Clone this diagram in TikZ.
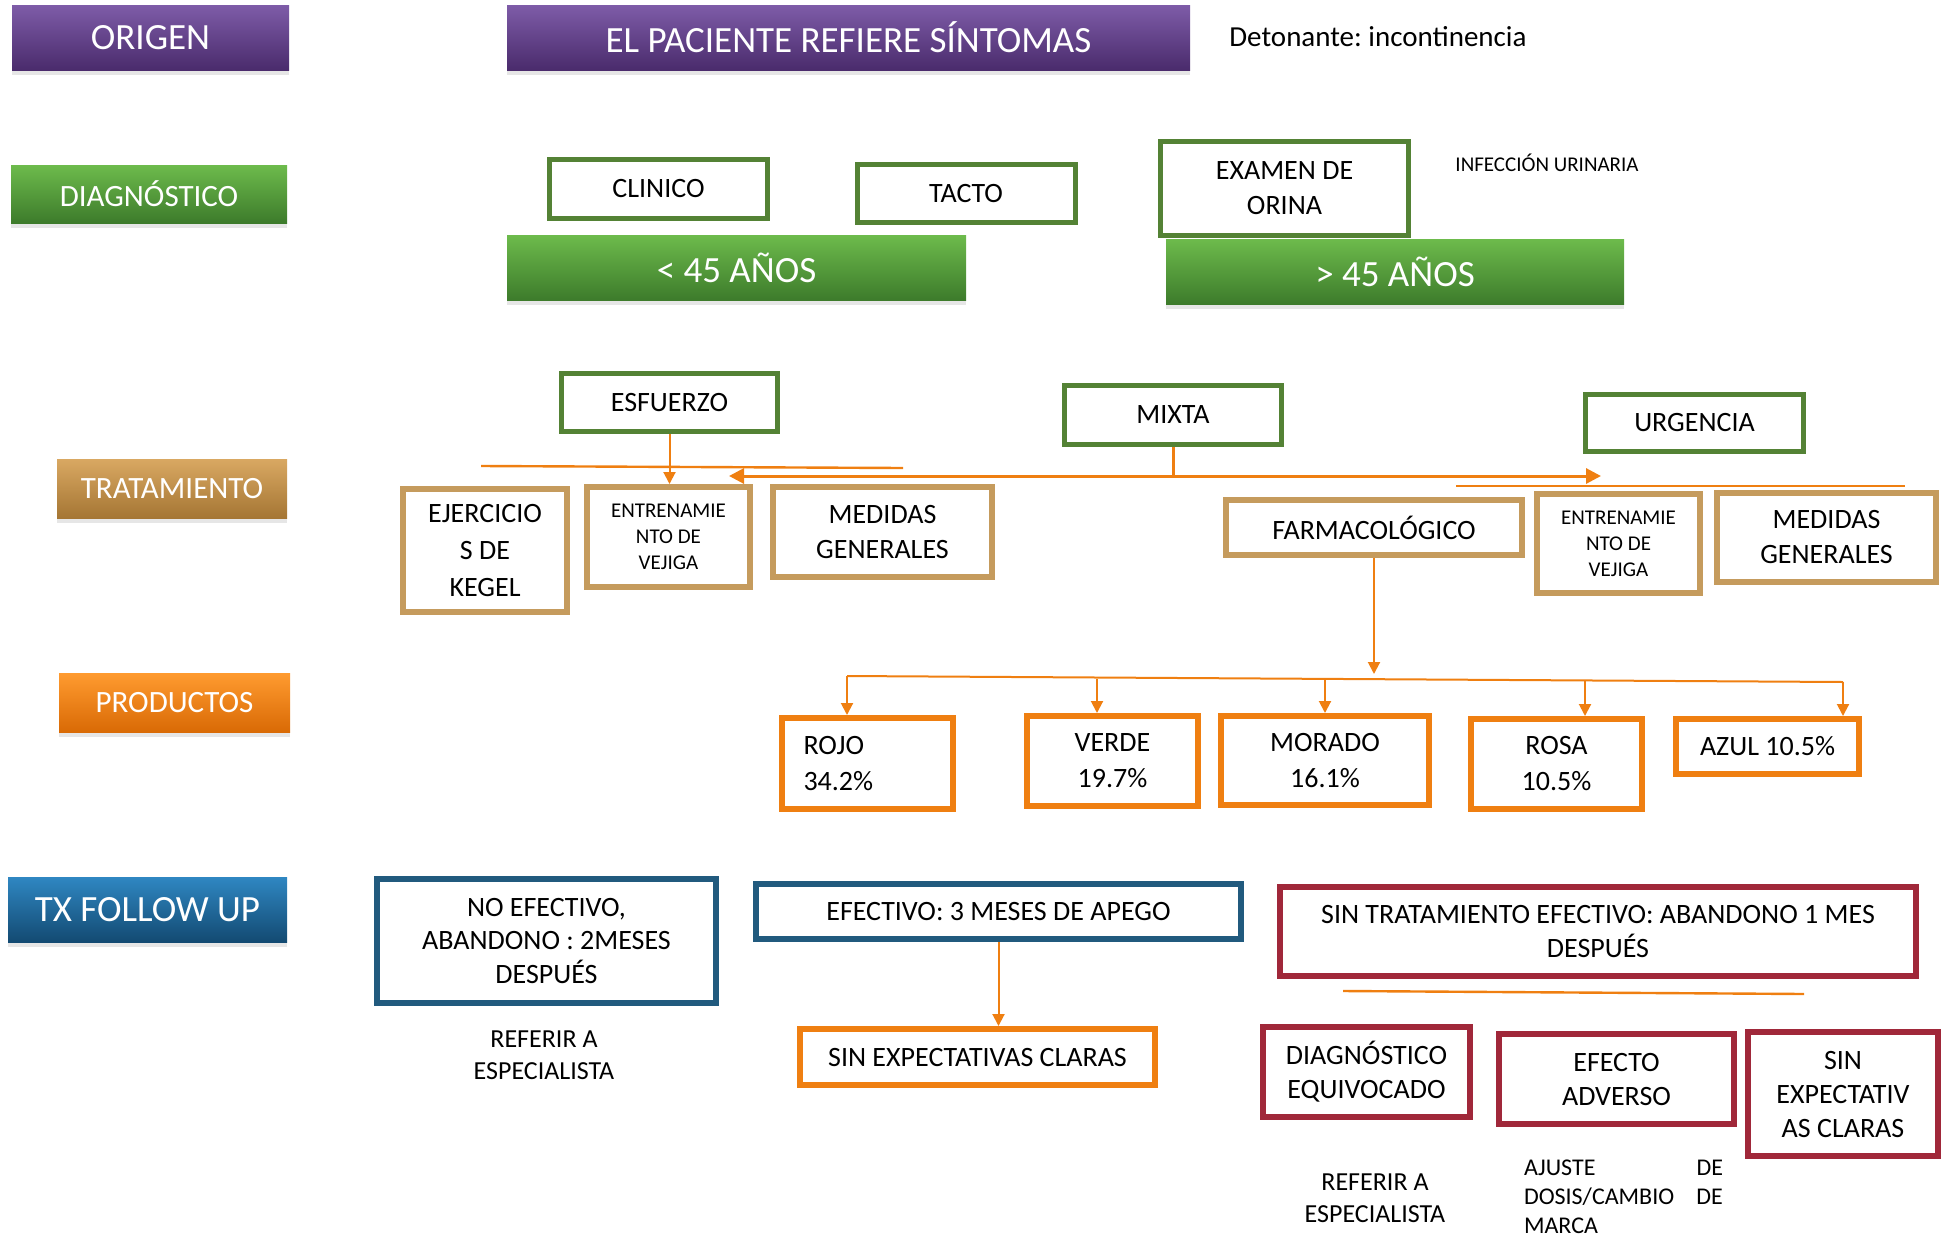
\documentclass[tikz,border=0pt]{standalone}
\usepackage{fontspec}
\setmainfont{Carlito}
\usetikzlibrary{arrows.meta,shadows}
\frenchspacing

\definecolor{morTop}{HTML}{7E5CA8}
\definecolor{morBot}{HTML}{4A2B6C}
\definecolor{verTop}{HTML}{6DBB4C}
\definecolor{verBot}{HTML}{3D7B2B}
\definecolor{tanTop}{HTML}{D9A862}
\definecolor{tanBot}{HTML}{A57634}
\definecolor{narTop}{HTML}{FF9B30}
\definecolor{narBot}{HTML}{D96A05}
\definecolor{azuTop}{HTML}{2F87C2}
\definecolor{azuBot}{HTML}{134A72}
\definecolor{verde}{HTML}{548235}
\definecolor{tan}{HTML}{C59B5D}
\definecolor{naranja}{HTML}{EF7F11}
\definecolor{azul}{HTML}{215A7E}
\definecolor{rojo}{HTML}{A0283A}

\tikzset{
  etiq/.style={inner sep=0pt, text=white, drop shadow={shadow xshift=0pt, shadow yshift=-2.5pt, opacity=0.2}},
  etmor/.style={etiq, top color=morTop, bottom color=morBot},
  etver/.style={etiq, top color=verTop, bottom color=verBot},
  ettan/.style={etiq, top color=tanTop, bottom color=tanBot},
  etnar/.style={etiq, top color=narTop, bottom color=narBot},
  etazu/.style={etiq, top color=azuTop, bottom color=azuBot},
  grande/.style={font=\fontsize{18.5}{22}\selectfont},
  media/.style={font=\fontsize{15.5}{18}\selectfont},
  chica/.style={font=\fontsize{10.5}{13}\selectfont},
  caja/.style={draw, fill=white, line width=2.5pt, inner sep=0pt, align=center, font=\fontsize{14}{17.5}\selectfont},
  cver/.style={caja, draw=verde},
  ctan/.style={caja, draw=tan, line width=3pt},
  cnar/.style={caja, draw=naranja, line width=3pt, font=\fontsize{14}{18}\selectfont},
  cazu/.style={caja, draw=azul, line width=3pt, font=\fontsize{14}{16.7}\selectfont},
  croj/.style={caja, draw=rojo, line width=3pt, font=\fontsize{14}{17}\selectfont},
  linea/.style={draw=naranja, line width=1.2pt},
  flecha/.style={draw=naranja, line width=1pt, -{Triangle[length=6pt,width=6pt]}},
  flechag/.style={draw=naranja, line width=1.5pt, -{Triangle[length=7.5pt,width=7.5pt]}}
}

\begin{document}
\begin{tikzpicture}[x=0.5pt,y=-0.5pt]
        \useasboundingbox (0,0) rectangle (1944,1237);

        \node[etmor,grande,minimum width=138.5pt,minimum height=32.5pt] (orig) at (150.5,37.5) {ORIGEN};
        \node[etmor,grande,minimum width=341.5pt,minimum height=32.5pt] (sint) at (848.5,37.5) {EL PACIENTE REFIERE SÍNTOMAS};
        \node[anchor=west,inner sep=0pt,font=\fontsize{14.5}{17}\selectfont] (deto) at (1229,37) {Detonante: incontinencia};

        \node[etver,media,minimum width=138pt,minimum height=29pt] (diag) at (149,194) {DIAGNÓSTICO};
        \node[cver,minimum width=109pt,minimum height=29.5pt] (clin) at (658.5,189) {CLINICO};
        \node[cver,minimum width=109pt,minimum height=29pt] (tact) at (966,193.5) {TACTO};
        \node[etver,grande,minimum width=229.5pt,minimum height=32.5pt] (menor) at (736.5,267.5) {< 45 AÑOS};
        \node[cver,minimum width=124pt,minimum height=47pt] (exam) at (1284.5,188.5) {EXAMEN DE\\ORINA};
        \node[etver,grande,minimum width=229pt,minimum height=32.5pt] (mayor) at (1395,271.5) {> 45 AÑOS};
        \node[font=\fontsize{10.5}{12}\selectfont] (infe) at (1547,163) {INFECCIÓN URINARIA};

        \node[cver,minimum width=108pt,minimum height=29pt] (esf) at (669.5,402.5) {ESFUERZO};
        \node[cver,minimum width=108.5pt,minimum height=29.5pt] (mix) at (1173,415) {MIXTA};
        \node[cver,minimum width=109pt,minimum height=28.5pt] (urg) at (1694.5,423) {URGENCIA};
        \node[ettan,media,minimum width=115pt,minimum height=29.5pt] (trat) at (172,488.5) {TRATAMIENTO};
        \node[ctan,minimum width=82pt,minimum height=61.5pt,font=\fontsize{14}{18.3}\selectfont] (keg) at (485,550.5) {EJERCICIO\\S DE\\KEGEL};
        \node[ctan,chica,minimum width=81.5pt,minimum height=50pt] (ent1) at (668.5,537) {ENTRENAMIE\\NTO DE\\VEJIGA};
        \node[ctan,minimum width=109.5pt,minimum height=45pt] (med1) at (882.5,532) {MEDIDAS\\GENERALES};
        \node[ctan,minimum width=148pt,minimum height=27.5pt] (farm) at (1374,527.5) {FARMACOLÓGICO};
        \node[ctan,chica,minimum width=81.5pt,minimum height=49.5pt] (ent2) at (1618.5,543.5) {ENTRENAMIE\\NTO DE\\VEJIGA};
        \node[ctan,minimum width=109.5pt,minimum height=44.5pt] (med2) at (1826.5,537.5) {MEDIDAS\\GENERALES};

        \coordinate (l1a) at (481,466);
        \coordinate (l1b) at (903,468);
        \coordinate (mixI) at (729,476);
        \coordinate (mixD) at (1601,476);
        \coordinate (l2a) at (1456,486);
        \coordinate (l2b) at (1905,486);
        \draw[linea] (l1a) -- (l1b);
        \draw[flecha] (esf.south) -- (esf.south |- ent1.north);
        \draw[flechag] (mix.south) |- (mixI);
        \draw[flechag] (mix.south) |- (mixD);
        \draw[linea] (l2a) -- (l2b);

        \node[etnar,media,minimum width=115.5pt,minimum height=29.5pt] (prod) at (174.5,702.5) {PRODUCTOS};
        \node[cnar,minimum width=85.5pt,minimum height=45.5pt,align=left,text width=64pt] (rojoP) at (867.5,763.5) {ROJO\\34.2\%};
        \node[cnar,minimum width=85.5pt,minimum height=45pt] (verdeP) at (1112.5,761) {VERDE\\19.7\%};
        \node[cnar,minimum width=104pt,minimum height=44.5pt] (moradoP) at (1325,760.5) {MORADO\\16.1\%};
        \node[cnar,minimum width=85.5pt,minimum height=45pt] (rosaP) at (1556.5,764) {ROSA\\10.5\%};
        \node[cnar,minimum width=91.5pt,minimum height=27.5pt] (azulP) at (1767.5,746.5) {AZUL 10.5\%};

        \coordinate (farmP) at (1374,674);
        \coordinate (busI) at (847,676);
        \coordinate (busD) at (1843,682);
        \coordinate (pV) at (1097,679);
        \coordinate (pM) at (1325,679);
        \coordinate (pR) at (1585,681);
        \draw[flecha] (farm) -- (farmP);
        \draw[linea,line width=1pt] (busI) -- (busD);
        \draw[flecha] (busI) -- (busI |- rojoP.north);
        \draw[flecha] (pV) -- (pV |- verdeP.north);
        \draw[flecha] (pM) -- (pM |- moradoP.north);
        \draw[flecha] (pR) -- (pR |- rosaP.north);
        \draw[flecha] (busD) -- (busD |- azulP.north);

        \node[etazu,grande,minimum width=139.5pt,minimum height=32.5pt] (txfu) at (147.5,909.5) {TX FOLLOW UP};
        \node[cazu,minimum width=169.5pt,minimum height=62pt] (noef) at (546.5,941) {NO EFECTIVO,\\ABANDONO : 2MESES\\DESPUÉS};
        \node[cazu,minimum width=242.5pt,minimum height=27.5pt] (efec) at (998.5,911.5) {EFECTIVO: 3 MESES DE APEGO};
        \node[cnar,minimum width=177.5pt,minimum height=28pt] (sinx) at (977.5,1057) {SIN EXPECTATIVAS CLARAS};
        \draw[flecha] (efec.south) -- (efec.south |- sinx.north);
        \node[align=center,font=\fontsize{13}{16}\selectfont] (ref1) at (544,1055) {REFERIR A\\ESPECIALISTA};

        \node[croj,minimum width=318pt,minimum height=44.5pt] (sint2) at (1598,931.5) {SIN TRATAMIENTO EFECTIVO: ABANDONO 1 MES\\DESPUÉS};
        \coordinate (l3a) at (1343,991);
        \coordinate (l3b) at (1804,994);
        \draw[linea] (l3a) -- (l3b);
        \node[croj,minimum width=103.5pt,minimum height=45pt] (diaq) at (1366.5,1072) {DIAGNÓSTICO\\EQUIVOCADO};
        \node[croj,minimum width=117.5pt,minimum height=45pt] (efad) at (1616.5,1079) {EFECTO\\ADVERSO};
        \node[croj,minimum width=95pt,minimum height=62pt] (sinx2) at (1843,1094) {SIN\\EXPECTATIV\\AS CLARAS};
        \node[align=center,font=\fontsize{13}{16}\selectfont] (ref2) at (1375,1198) {REFERIR A\\ESPECIALISTA};
        \node[align=left,inner sep=0pt,text width=99.5pt,font=\fontsize{12}{14.5}\selectfont] (ajus) at (1623.5,1196.5) {\makebox[99.5pt][l]{AJUSTE\hfill DE}\\\makebox[99.5pt][l]{DOSIS/CAMBIO\hfill DE}\\MARCA};
            \end{tikzpicture}
\end{document}
